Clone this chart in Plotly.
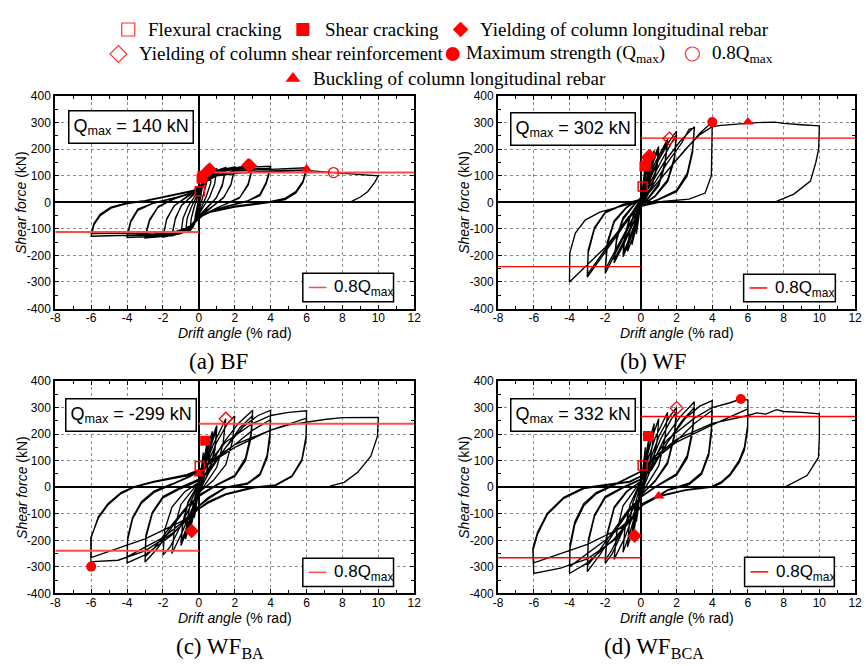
import plotly.graph_objects as go

# ---------------- data ----------------
captions = ["(a) BF", "(b) WF", "(c) WF<sub>BA</sub>", "(d) WF<sub>BCA</sub>"]
q_max = [140, 302, -299, 332]
q_08 = [112, 242, 239, 266]
x_ticks = [-8, -6, -4, -2, 0, 2, 4, 6, 8, 10, 12]
x_tick_labels = ["-8", "-6", "-4", "-2", "0", "2", "4", "6", "8", "10", "12"]
y_ticks = [-400, -300, -200, -100, 0, 100, 200, 300, 400]
y_tick_labels = ["-400", "-300", "-200", "-100", "0", "100", "200", "300", "400"]

# hysteresis paths (drift %rad, shear kN)
bf_loop = [
    (0, 0),
    (0.1, 50), (0.25, 95), (0.2, 60), (0.1, 20), (0, -10), (-0.1, -45), (-0.25, -85), (-0.2, -50), (-0.1, -15), (0, 10),
    (0.15, 65), (0.3, 95), (0.5, 118), (0.42, 70), (0.25, 25), (0.05, -20), (-0.15, -60), (-0.3, -90), (-0.5, -108), (-0.42, -60), (-0.25, -15), (-0.05, 20),
    (0.15, 60), (0.35, 100), (0.75, 124), (0.65, 70), (0.4, 20), (0.1, -25), (-0.2, -70), (-0.45, -100), (-0.75, -114), (-0.65, -60), (-0.4, -15), (-0.1, 25),
    (0.2, 65), (0.5, 108), (1.0, 128), (0.88, 70), (0.6, 20), (0.2, -25), (-0.2, -65), (-0.55, -102), (-1.0, -118), (-0.88, -60), (-0.6, -15), (-0.2, 25),
    (0.2, 60), (0.6, 105), (1.0, 120), (1.5, 131), (1.32, 70), (1.0, 20), (0.4, -25), (0, -55), (-0.35, -85), (-0.8, -112), (-1.5, -126), (-1.32, -65), (-1.0, -15), (-0.4, 25),
    (0.1, 55), (0.6, 100), (1.0, 116), (1.5, 126), (1.3, 60), (0.95, 15), (0.35, -25), (0, -50), (-0.35, -85), (-0.85, -110), (-1.5, -122), (-1.3, -58), (-0.95, -10), (-0.35, 25),
    (0.1, 55), (0.6, 100), (1.2, 122), (2.0, 133), (1.8, 70), (1.4, 20), (0.6, -25), (0, -55), (-0.4, -90), (-1.0, -118), (-2.0, -131), (-1.8, -65), (-1.4, -15), (-0.6, 25),
    (0.1, 50), (0.7, 100), (1.3, 118), (2.0, 128), (1.78, 65), (1.35, 15), (0.55, -25), (0, -52), (-0.45, -90), (-1.1, -116), (-2.0, -127), (-1.78, -60), (-1.35, -12), (-0.55, 25),
    (0.1, 50), (0.6, 98), (1.2, 120), (2.0, 130), (2.8, 139), (3.0, 137), (2.75, 70), (2.3, 20), (1.2, -15), (0.3, -45), (-0.2, -75), (-0.8, -112), (-1.6, -126), (-3.0, -134), (-2.75, -70), (-2.3, -20), (-1.5, 10), (-0.4, 35),
    (0, 50), (0.6, 95), (1.3, 118), (2.2, 126), (3.0, 130), (2.75, 65), (2.25, 15), (1.1, -18), (0.2, -48), (-0.3, -82), (-0.9, -112), (-1.8, -124), (-3.0, -128), (-2.75, -65), (-2.25, -15), (-1.4, 12), (-0.3, 38),
    (0.1, 60), (0.6, 100), (1.4, 122), (2.5, 132), (4.0, 136), (3.75, 75), (3.4, 30), (2.7, 5), (1.5, -15), (0.4, -40), (-0.2, -72), (-0.8, -110), (-2.0, -126), (-4.0, -133), (-3.8, -75), (-3.4, -30), (-2.6, -5), (-1.4, 15), (-0.4, 35),
    (0.1, 55), (0.7, 100), (1.6, 120), (2.6, 126), (4.0, 128), (3.75, 70), (3.4, 25), (2.6, 2), (1.4, -18), (0.3, -45), (-0.3, -80), (-1.0, -112), (-2.2, -122), (-4.0, -126), (-3.8, -70), (-3.4, -25), (-2.5, -2), (-1.3, 18), (-0.3, 38),
    (0.1, 60), (0.8, 100), (2.0, 118), (4.0, 124), (6.0, 130), (5.8, 80), (5.4, 40), (4.8, 15), (4.0, 3), (2.0, -15), (0.6, -35), (0, -55), (-0.5, -90), (-1.2, -112), (-2.5, -120), (-4.0, -124), (-6.0, -128), (-5.85, -85), (-5.5, -50), (-4.9, -22), (-4.0, -5), (-3.0, 5), (-1.3, 30), (-0.3, 42),
    (0.2, 70), (1.0, 100), (2.5, 112), (4.0, 118), (6.0, 122), (5.8, 75), (5.4, 35), (4.8, 10), (4.0, 0), (2.0, -18), (0.6, -38), (0, -58), (-0.5, -90), (-1.3, -110), (-3.0, -116), (-6.0, -118), (-5.85, -80), (-5.5, -45), (-4.9, -18), (-4.0, -2), (-3.0, 6), (-1.2, 32), (-0.3, 45),
    (0.3, 75), (1.0, 100), (2.0, 110), (4.0, 116), (6.0, 120), (7.5, 112), (9.0, 106), (10.0, 100), (9.8, 75), (9.4, 40), (9.0, 20), (8.4, 0),
]

wf_loop = [
    (0, 0),
    (0.1, 60), (0.25, 140), (0.2, 90), (0.1, 40), (0, 0), (-0.1, -50), (-0.25, -120), (-0.2, -75), (-0.1, -30), (0, 10),
    (0.15, 70), (0.3, 120), (0.5, 175), (0.42, 120), (0.3, 60), (0.1, 10), (0, -20), (-0.2, -80), (-0.35, -125), (-0.5, -160), (-0.42, -110), (-0.3, -55), (-0.1, -10), (0, 20),
    (0.2, 80), (0.45, 140), (0.75, 195), (0.65, 130), (0.45, 60), (0.15, 10), (0, -20), (-0.25, -80), (-0.5, -140), (-0.75, -185), (-0.65, -120), (-0.45, -55), (-0.15, -10), (0, 20),
    (0.25, 75), (0.6, 150), (1.0, 210), (0.9, 140), (0.6, 60), (0.2, 10), (0, -20), (-0.3, -80), (-0.65, -150), (-1.0, -205), (-0.9, -135), (-0.6, -55), (-0.2, -10), (0, 20),
    (0.3, 75), (0.65, 145), (1.0, 200), (0.9, 130), (0.6, 55), (0.2, 8), (0, -20), (-0.3, -75), (-0.7, -145), (-1.0, -195), (-0.9, -125), (-0.6, -50), (-0.2, -8), (0, 18),
    (0.3, 70), (0.8, 150), (1.5, 238), (1.35, 150), (1.0, 70), (0.4, 15), (0, -20), (-0.4, -75), (-0.9, -150), (-1.5, -228), (-1.35, -140), (-1.0, -65), (-0.4, -12), (0, 18),
    (0.35, 70), (0.9, 150), (1.5, 228), (1.35, 140), (1.0, 62), (0.4, 12), (0, -20), (-0.4, -72), (-0.95, -145), (-1.5, -218), (-1.35, -130), (-1.0, -58), (-0.4, -10), (0, 16),
    (0.4, 70), (1.0, 160), (1.6, 230), (2.0, 268), (1.88, 170), (1.5, 85), (0.8, 25), (0, -15), (-0.5, -70), (-1.1, -150), (-1.6, -220), (-2.0, -268), (-1.88, -160), (-1.5, -75), (-0.8, -20), (0, 15),
    (0.45, 65), (1.1, 150), (1.7, 222), (2.0, 255), (1.88, 160), (1.5, 78), (0.8, 22), (0, -15), (-0.5, -65), (-1.2, -150), (-1.7, -215), (-2.0, -255), (-1.88, -150), (-1.5, -70), (-0.8, -18), (0, 12),
    (0.5, 60), (1.3, 150), (2.2, 230), (3.0, 285), (2.9, 200), (2.6, 110), (2.0, 45), (1.0, 12), (0, -15), (-0.6, -55), (-1.5, -140), (-2.3, -220), (-3.0, -282), (-2.95, -190), (-2.6, -100), (-2.0, -40), (-1.0, -10), (0, 12),
    (0.6, 55), (1.5, 150), (2.3, 225), (2.7, 275), (3.0, 280), (2.9, 190), (2.6, 100), (2.0, 40), (1.0, 10), (0, -15), (-0.7, -55), (-1.6, -140), (-2.5, -225), (-3.0, -272), (-2.95, -180), (-2.6, -95), (-2.0, -38), (-1.0, -8), (0, 12),
    (0.5, 40), (1.5, 120), (2.5, 200), (3.3, 260), (4.0, 302), (3.97, 200), (3.95, 100), (3.6, 35), (2.7, 12), (1.2, 3), (0, -15), (-0.5, -45), (-2.0, -170), (-4.0, -300), (-3.98, -190), (-3.67, -116), (-3.12, -67), (-2.3, -37), (-1.0, -12), (0, 5),
    (0.5, 40), (1.5, 120), (2.5, 200), (3.3, 255), (4.0, 285), (4.5, 290), (5.5, 296), (6.5, 300), (7.5, 302), (8.0, 297), (9.0, 292), (10.0, 288), (9.96, 200), (9.8, 150), (9.5, 80), (8.57, 31), (7.47, 0),
]

wfba_loop = [
    (0, 0),
    (0.1, 60), (0.25, 130), (0.2, 85), (0.1, 35), (0, 0), (-0.1, -50), (-0.25, -115), (-0.2, -70), (-0.1, -25), (0, 10),
    (0.15, 70), (0.3, 120), (0.5, 180), (0.42, 120), (0.3, 60), (0.1, 10), (0, -20), (-0.2, -80), (-0.35, -125), (-0.5, -165), (-0.42, -110), (-0.3, -55), (-0.1, -10), (0, 20),
    (0.2, 80), (0.45, 145), (0.75, 210), (0.65, 140), (0.45, 65), (0.15, 10), (0, -20), (-0.25, -85), (-0.5, -145), (-0.75, -195), (-0.65, -125), (-0.45, -55), (-0.15, -10), (0, 20),
    (0.25, 80), (0.6, 160), (1.0, 232), (0.9, 150), (0.6, 65), (0.2, 10), (0, -22), (-0.3, -85), (-0.65, -160), (-1.0, -220), (-0.9, -140), (-0.6, -60), (-0.2, -10), (0, 20),
    (0.3, 80), (0.65, 155), (1.0, 222), (0.9, 142), (0.6, 60), (0.2, 8), (0, -22), (-0.3, -80), (-0.7, -155), (-1.0, -210), (-0.9, -132), (-0.6, -55), (-0.2, -8), (0, 20),
    (0.3, 75), (0.8, 160), (1.5, 258), (1.35, 165), (1.0, 75), (0.4, 15), (0, -25), (-0.4, -85), (-0.9, -165), (-1.5, -250), (-1.35, -150), (-1.0, -65), (-0.4, -12), (0, 20),
    (0.4, 75), (1.0, 170), (1.6, 240), (2.0, 268), (1.88, 175), (1.5, 85), (0.8, 25), (0, -20), (-0.5, -75), (-1.1, -155), (-1.6, -225), (-2.0, -256), (-1.9, -160), (-1.5, -75), (-0.8, -18), (0, 18),
    (0.5, 65), (1.3, 160), (2.2, 240), (3.0, 290), (2.9, 200), (2.6, 110), (2.0, 45), (1.0, 10), (0, -30), (-0.6, -70), (-1.5, -150), (-2.3, -230), (-3.0, -282), (-2.95, -190), (-2.6, -100), (-2.0, -40), (-1.0, -5), (0, 25),
    (0.6, 60), (1.5, 150), (2.3, 225), (3.0, 270), (2.9, 185), (2.6, 100), (2.0, 40), (1.0, 8), (0, -35), (-0.7, -75), (-1.6, -150), (-2.5, -230), (-3.0, -262), (-2.95, -180), (-2.6, -95), (-2.0, -35), (-1.0, 0), (0, 30),
    (0.5, 60), (1.5, 150), (2.5, 230), (3.3, 270), (4.0, 290), (3.95, 200), (3.8, 120), (3.4, 50), (2.7, 15), (1.5, 0), (0.5, -40), (0, -70), (-0.5, -110), (-1.5, -180), (-3.0, -255), (-4.0, -285), (-3.97, -200), (-3.7, -120), (-3.2, -60), (-2.5, -20), (-1.5, 10), (-0.5, 40), (0, 60),
    (0.6, 90), (2.0, 160), (3.0, 215), (4.0, 255), (3.95, 180), (3.8, 110), (3.4, 45), (2.7, 12), (1.5, -2), (0.5, -45), (0, -72), (-0.5, -110), (-2.0, -190), (-4.0, -262), (-3.97, -190), (-3.7, -115), (-3.2, -55), (-2.5, -15), (-1.5, 12), (-0.5, 42), (0, 62),
    (0.5, 90), (1.5, 170), (3.0, 240), (4.0, 270), (5.0, 282), (6.0, 288), (5.97, 190), (5.74, 105), (5.19, 43), (4.27, 9), (3.0, 0), (1.5, -25), (0.5, -55), (0, -80), (-0.5, -115), (-1.5, -175), (-3.0, -240), (-4.5, -275), (-5.9, -280), (-6.0, -299), (-6.02, -265), (-6.02, -190), (-5.6, -116), (-5.07, -67), (-4.34, -24), (-3.6, 0), (-2.5, 19), (-0.67, 43), (0, 62),
    (0.5, 85), (2.0, 150), (4.0, 215), (6.0, 260), (5.97, 180), (5.74, 100), (5.19, 40), (4.27, 6), (3.0, -3), (1.5, -28), (0.5, -60), (0, -82), (-1.0, -130), (-3.0, -195), (-6.0, -265), (-6.0, -190), (-5.6, -112), (-5.07, -62), (-4.34, -20), (-3.6, 2), (-2.5, 22), (-0.67, 47), (0, 65),
    (0.5, 90), (2.0, 160), (4.0, 215), (5.0, 235), (6.0, 245), (7.0, 255), (8.0, 262), (9.0, 263), (10.0, 263), (9.95, 191), (9.58, 117), (8.85, 56), (8.1, 18), (7.3, 4),
]

wfbca_loop = [
    (0, 0),
    (0.1, 70), (0.25, 150), (0.2, 100), (0.1, 40), (0, 0), (-0.1, -55), (-0.25, -130), (-0.2, -80), (-0.1, -30), (0, 10),
    (0.15, 80), (0.3, 140), (0.5, 205), (0.42, 140), (0.3, 70), (0.1, 10), (0, -20), (-0.2, -90), (-0.35, -150), (-0.5, -190), (-0.42, -125), (-0.3, -60), (-0.1, -10), (0, 20),
    (0.2, 90), (0.45, 170), (0.75, 240), (0.65, 160), (0.45, 75), (0.15, 10), (0, -25), (-0.25, -100), (-0.5, -170), (-0.75, -225), (-0.65, -145), (-0.45, -60), (-0.15, -10), (0, 22),
    (0.25, 90), (0.6, 180), (1.0, 258), (0.9, 170), (0.6, 75), (0.2, 10), (0, -25), (-0.3, -100), (-0.65, -180), (-1.0, -245), (-0.9, -160), (-0.6, -65), (-0.2, -10), (0, 22),
    (0.3, 85), (0.8, 185), (1.5, 282), (1.35, 185), (1.0, 80), (0.4, 15), (0, -28), (-0.4, -100), (-0.9, -190), (-1.5, -272), (-1.35, -170), (-1.0, -70), (-0.4, -12), (0, 22),
    (0.4, 80), (1.0, 190), (1.6, 265), (2.0, 300), (1.88, 200), (1.5, 95), (0.8, 25), (0, -30), (-0.5, -90), (-1.1, -180), (-1.6, -250), (-2.0, -287), (-1.9, -185), (-1.5, -80), (-0.8, -18), (0, 22),
    (0.45, 75), (1.1, 180), (1.7, 255), (2.0, 285), (1.88, 190), (1.5, 88), (0.8, 22), (0, -30), (-0.5, -88), (-1.2, -180), (-1.7, -245), (-2.0, -275), (-1.9, -178), (-1.5, -75), (-0.8, -15), (0, 22),
    (0.5, 70), (1.3, 180), (2.2, 265), (3.0, 322), (2.9, 220), (2.6, 120), (2.0, 50), (1.0, 10), (0, -35), (-0.6, -85), (-1.5, -170), (-2.3, -255), (-3.0, -318), (-2.95, -210), (-2.6, -110), (-2.0, -40), (-1.0, -3), (0, 28),
    (0.6, 65), (1.5, 170), (2.3, 250), (3.0, 300), (2.9, 205), (2.6, 110), (2.0, 45), (1.0, 8), (0, -38), (-0.7, -85), (-1.6, -170), (-2.5, -255), (-3.0, -295), (-2.95, -200), (-2.6, -105), (-2.0, -35), (-1.0, 0), (0, 30),
    (0.5, 65), (1.5, 170), (2.5, 260), (3.3, 305), (4.0, 326), (3.95, 220), (3.8, 130), (3.4, 55), (2.7, 15), (1.5, -10), (1.0, -31), (0.1, -62), (-0.5, -115), (-1.5, -195), (-3.0, -285), (-4.0, -325), (-3.97, -230), (-3.7, -140), (-3.2, -70), (-2.5, -25), (-1.5, 8), (-0.5, 40), (0, 58),
    (0.6, 95), (2.0, 175), (3.0, 240), (4.0, 290), (3.95, 200), (3.8, 120), (3.4, 48), (2.7, 10), (1.5, -12), (1.0, -33), (0.1, -65), (-0.5, -115), (-2.0, -200), (-4.0, -300), (-3.97, -215), (-3.7, -130), (-3.2, -62), (-2.5, -20), (-1.5, 10), (-0.5, 42), (0, 60),
    (0.5, 90), (1.5, 180), (3.0, 260), (4.0, 300), (5.0, 318), (5.6, 332), (6.0, 328), (5.98, 230), (5.8, 150), (5.5, 100), (5.0, 50), (4.5, 20), (4.0, 3), (2.5, -10), (1.0, -33), (0.1, -65), (-0.5, -120), (-1.5, -200), (-3.0, -270), (-4.5, -305), (-6.0, -325), (-6.05, -240), (-5.79, -177), (-5.24, -103), (-4.32, -42), (-3.2, -5), (-0.63, 19), (0, 40),
    (0.5, 90), (2.0, 170), (4.0, 235), (6.0, 295), (5.98, 215), (5.8, 140), (5.5, 92), (5.0, 45), (4.5, 15), (4.0, 0), (2.5, -12), (1.0, -35), (0.1, -68), (-1.0, -150), (-3.0, -215), (-6.0, -285), (-6.05, -230), (-5.79, -170), (-5.24, -98), (-4.32, -38), (-3.2, -2), (-0.63, 22), (0, 42),
    (0.5, 100), (2.0, 180), (4.0, 240), (6.0, 270), (6.5, 280), (7.0, 275), (7.6, 292), (8.0, 285), (9.0, 282), (10.0, 276), (10.0, 192), (9.95, 112), (9.31, 44), (8.2, 5), (8.0, 0),
]

loops = [bf_loop, wf_loop, wfba_loop, wfbca_loop]

# damage events per specimen: (drift, shear)
flexural_cracking = [[(0.05, 42)], [(0.1, 60)], [(0.05, 80)], [(0.1, 82)]]
shear_cracking = [[(0.15, 90), (0.2, 100)], [(0.2, 135), (0.28, 140)], [(0.35, 175)], [(0.4, 193)]]
yield_long = [[(0.5, 118), (0.6, 124), (2.75, 140), (2.85, 138)], [(0.4, 168), (0.48, 175)], [(-0.4, -165)], [(-0.35, -183)]]
yield_shear = [[], [(1.6, 240)], [(1.5, 258)], [(2.0, 298)]]
max_strength = [[], [(4.0, 302)], [(-6.0, -299)], [(5.6, 332)]]
point_08 = [[(7.5, 112)], [], [], []]
buckling = [[(6.0, 125)], [(6.0, 302)], [(0.0, 50)], [(1.0, -33)]]

legend_labels = [
    "Flexural cracking", "Shear cracking", "Yielding of column longitudinal rebar",
    "Yielding of column shear reinforcement", "Maximum strength (Q<sub>max</sub>)",
    "0.8Q<sub>max</sub>", "Buckling of column longitudinal rebar",
]

# ---------------- layout constants ----------------
W, H = 866, 666
RED = "#ff0000"
SANS = "Liberation Sans, Arial, sans-serif"
SERIF = "Liberation Serif, Times New Roman, serif"
boxes = [((51, 415), (91, 308)), ((500, 862), (91, 308)),
         ((51, 415), (382, 599)), ((500, 862), (382, 599))]
qbox_pos = [(64, 105), (512, 107), (61, 399), (512, 399)]
lbox_pos = [(302, 272, 394, 301), (749, 273, 842, 301),
            (302, 563, 394, 592), (750, 562, 841, 592)]
cap_pos = [(216, 362), (658, 362), (218, 655), (658, 655)]
qline_colors = ["#ff4a4a", RED, "#ff4a4a", RED]
qline_widths = [2, 1.3, 2, 1.5]

def px(x):
    return x / W

def py(y):
    return 1 - y / H

fig = go.Figure()
layout = dict(width=W, height=H, margin=dict(l=0, r=0, t=0, b=0),
              paper_bgcolor="white", plot_bgcolor="rgba(0,0,0,0)", showlegend=False,
              font=dict(family=SANS, color="black", size=12))
annotations = []
shapes = []

event_styles = [
    (flexural_cracking, dict(symbol="square-open", size=9, color=RED, line=dict(width=1.5, color=RED))),
    (shear_cracking, dict(symbol="square", size=10, color=RED)),
    (yield_long, dict(symbol="diamond", size=11, color=RED)),
    (yield_shear, dict(symbol="diamond-open", size=10, color=RED, line=dict(width=1.3, color=RED))),
    (max_strength, dict(symbol="circle", size=10, color=RED)),
    (point_08, dict(symbol="circle-open", size=10, color=RED, line=dict(width=1.3, color=RED))),
    (buckling, dict(symbol="triangle-up", size=10, color=RED)),
]

for i, ((x0, x1), (y0, y1)) in enumerate(boxes):
    n = "" if i == 0 else str(i + 1)
    xa, ya = "x" + n, "y" + n
    axis_common = dict(showline=True, linewidth=2, linecolor="black", mirror="allticks",
                       ticks="inside", ticklen=4, tickwidth=1, tickcolor="black",
                       showgrid=True, gridcolor="#8a8a8a", griddash="dot", gridwidth=1,
                       zeroline=True, zerolinecolor="black", zerolinewidth=1.5,
                       tickfont=dict(family=SANS, size=12, color="black"), fixedrange=True)
    layout["xaxis" + n] = dict(axis_common, domain=[px(x0), px(x1)], anchor=ya,
                               range=[-8, 12], tickvals=x_ticks, ticktext=x_tick_labels,
                               ticklabelstandoff=-3,
                               minor=dict(ticks="inside", dtick=1, ticklen=3, tickcolor="black", showgrid=False))
    layout["yaxis" + n] = dict(axis_common, domain=[py(y1), py(y0)], anchor=xa,
                               range=[-400, 400], tickvals=y_ticks, ticktext=y_tick_labels,
                               minor=dict(ticks="inside", dtick=50, ticklen=3, tickcolor="black", showgrid=False))

    d = [p[0] for p in loops[i]]
    f = [p[1] for p in loops[i]]
    fig.add_trace(go.Scatter(x=d, y=f, mode="lines", xaxis=xa, yaxis=ya,
                             line=dict(color="black", width=1.35), hoverinfo="skip"))
    # 0.8 Qmax lines
    fig.add_trace(go.Scatter(x=[0, 12], y=[q_08[i], q_08[i]], mode="lines", xaxis=xa, yaxis=ya,
                             line=dict(color=qline_colors[i], width=qline_widths[i])))
    fig.add_trace(go.Scatter(x=[-8, 0], y=[-q_08[i], -q_08[i]], mode="lines", xaxis=xa, yaxis=ya,
                             line=dict(color=qline_colors[i], width=qline_widths[i])))
    for evs, mk in event_styles:
        pts = evs[i]
        if pts:
            fig.add_trace(go.Scatter(x=[p[0] for p in pts], y=[p[1] for p in pts], mode="markers",
                                     xaxis=xa, yaxis=ya, marker=mk))

    # Qmax box
    qx, qy = qbox_pos[i]
    annotations.append(dict(xref="paper", yref="paper", x=px(qx), y=py(qy), xanchor="left", yanchor="top",
                            text=f"Q<sub>max</sub> = {q_max[i]} kN", showarrow=False,
                            font=dict(family=SANS, size=18, color="black"),
                            bordercolor="black", borderwidth=1.5, borderpad=4, bgcolor="white"))
    # 0.8Qmax legend box
    lx0, ly0, lx1, ly1 = lbox_pos[i]
    shapes.append(dict(type="rect", xref="paper", yref="paper", x0=px(lx0), x1=px(lx1), y0=py(ly1), y1=py(ly0),
                       line=dict(color="black", width=1.5), fillcolor="white", layer="above"))
    ym = (ly0 + ly1) / 2
    shapes.append(dict(type="line", xref="paper", yref="paper", x0=px(lx0 + 6), x1=px(lx0 + 24), y0=py(ym), y1=py(ym),
                       line=dict(color=qline_colors[i], width=1.5), layer="above"))
    annotations.append(dict(xref="paper", yref="paper", x=px(lx0 + 30), y=py(ym + 1), xanchor="left", yanchor="middle",
                            text="0.8Q<sub>max</sub>", showarrow=False, font=dict(family=SANS, size=17, color="black")))
    # axis titles
    annotations.append(dict(xref="paper", yref="paper", x=px((x0 + x1) / 2), y=py(y1 + 25), xanchor="center", yanchor="middle",
                            text="<i>Drift angle</i> (% rad)", showarrow=False, font=dict(family=SANS, size=14, color="black")))
    annotations.append(dict(xref="paper", yref="paper", x=px(x0 - 34), y=py((y0 + y1) / 2), xanchor="center", yanchor="middle",
                            text="<i>Shear force</i> (kN)", textangle=-90, showarrow=False,
                            font=dict(family=SANS, size=14, color="black")))
    # caption
    cx, cy = cap_pos[i]
    annotations.append(dict(xref="paper", yref="paper", x=px(cx), y=py(cy), xanchor="center", yanchor="middle",
                            text=captions[i], showarrow=False, font=dict(family=SERIF, size=23, color="black")))

# top legend (symbols on an invisible overlay axis in pixel units)
leg_sym_x = [125, 302, 462, 115, 454, 697, 292]
leg_sym_y = [23, 23, 23, 48, 48, 48, 73]
leg_text_x = [143, 322, 480, 134, 465, 715, 310]
leg_markers = [
    dict(symbol="square-open", size=13, color="#ff3030", line=dict(width=1.2, color="#ff3030")),
    dict(symbol="square", size=13, color=RED),
    dict(symbol="diamond", size=12, color=RED),
    dict(symbol="diamond-open", size=13, color="#ff3030", line=dict(width=1.2, color="#ff3030")),
    dict(symbol="circle", size=14, color=RED),
    dict(symbol="circle-open", size=14, color="#ff3030", line=dict(width=1.2, color="#ff3030")),
    dict(symbol="triangle-up", size=13, color=RED),
]
for k in range(7):
    fig.add_trace(go.Scatter(x=[leg_sym_x[k]], y=[leg_sym_y[k]], mode="markers", xaxis="x5", yaxis="y5",
                             marker=leg_markers[k], hoverinfo="skip"))
    annotations.append(dict(xref="paper", yref="paper", x=px(leg_text_x[k]), y=py(leg_sym_y[k]),
                            xanchor="left", yanchor="middle", text=legend_labels[k], showarrow=False,
                            font=dict(family=SERIF, size=19, color="black")))
layout["xaxis5"] = dict(domain=[0, 1], range=[0, W], visible=False, fixedrange=True, anchor="y5")
layout["yaxis5"] = dict(domain=[0, 1], range=[H, 0], visible=False, fixedrange=True, anchor="x5")

layout["annotations"] = annotations
layout["shapes"] = shapes
fig.update_layout(**layout)
fig.write_html("out.html", config={"displayModeBar": False},
               post_script="document.body.style.margin='0';document.body.style.overflow='hidden';")
